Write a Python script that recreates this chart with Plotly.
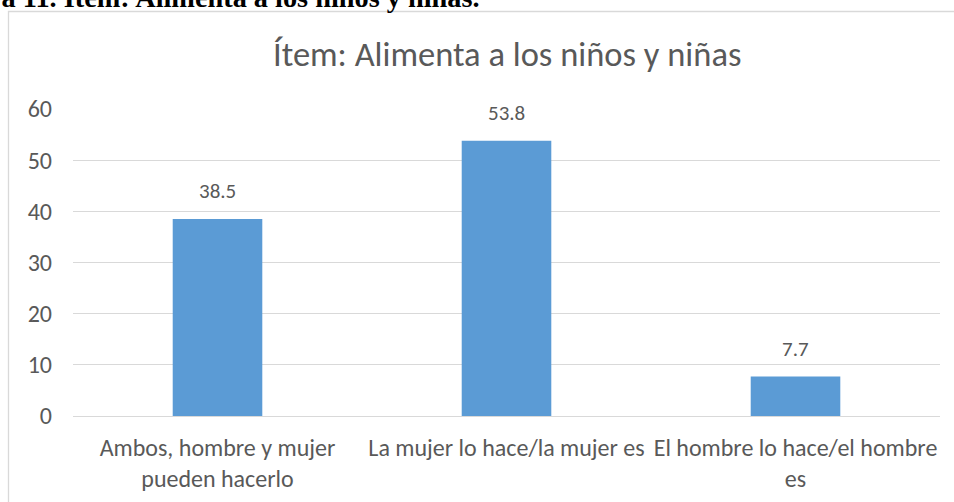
import plotly.graph_objects as go

categories = ["Ambos, hombre y mujer<br>pueden hacerlo",
              "La mujer lo hace/la mujer es",
              "El hombre lo hace/el hombre<br>es"]
values = [38.5, 53.8, 7.7]
labels = ["38.5", "53.8", "7.7"]
y_ticks = [0, 10, 20, 30, 40, 50, 60]
title_text = "Ítem: Alimenta a los niños y niñas"
heading_text = "Figura 11. Ítem: Alimenta a los niños y niñas."

W, H = 954, 502
L, R, T, B = 73, 14, 109, 86
PW, PH = W - L - R, H - T - B

def px_x(px):
    return (px - L) / PW

def px_y(py):
    return (H - B - py) / PH

FONT = "Carlito, Lato, sans-serif"
GRAY = "#595959"

fig = go.Figure()
fig.add_trace(go.Bar(x=categories, y=values, marker_color="#5B9BD5",
                     marker_line_width=0, width=0.31, hoverinfo="skip"))

for c, v, t in zip(categories, values, labels):
    fig.add_annotation(x=c, y=v, text=t, showarrow=False, yanchor="bottom",
                       yshift=13, font=dict(family=FONT, size=21, color=GRAY))

# chart title
fig.add_annotation(xref="paper", yref="paper", x=0.5, y=px_y(54), text=title_text,
                   showarrow=False, xanchor="center", yanchor="middle",
                   font=dict(family=FONT, size=34.5, color=GRAY))

# document heading (cut at top)
fig.add_annotation(xref="paper", yref="paper", x=px_x(482), y=px_y(15), text="<b>" + heading_text + "</b>",
                   showarrow=False, xanchor="right", yanchor="bottom",
                   font=dict(family="Liberation Serif, Times New Roman, serif", size=28.3, color="black"))

# chart frame
fig.add_shape(type="rect", xref="paper", yref="paper",
              x0=px_x(8.5), y0=px_y(520), x1=px_x(980), y1=px_y(11.5),
              line=dict(color="#D9D9D9", width=1.3), fillcolor="rgba(0,0,0,0)", layer="below")

fig.update_layout(
    width=W, height=H,
    margin=dict(l=L, r=R, t=T, b=B, autoexpand=False),
    paper_bgcolor="white", plot_bgcolor="white",
    showlegend=False,
    font=dict(family=FONT, color=GRAY),
    bargap=0.69,
)
fig.update_xaxes(tickfont=dict(size=24, color=GRAY), showgrid=False,
                 showline=True, linecolor="#D9D9D9", linewidth=1.3, ticks="",
                 tickson="labels", ticklabelstandoff=10, automargin=False)
fig.update_yaxes(range=[0, 60], tickvals=y_ticks, tickfont=dict(size=24, color=GRAY),
                 showgrid=True, gridcolor="#D9D9D9", gridwidth=1.3, zeroline=False,
                 showline=False, ticks="", ticklabelstandoff=20, automargin=False)

fig.write_html("out.html")
